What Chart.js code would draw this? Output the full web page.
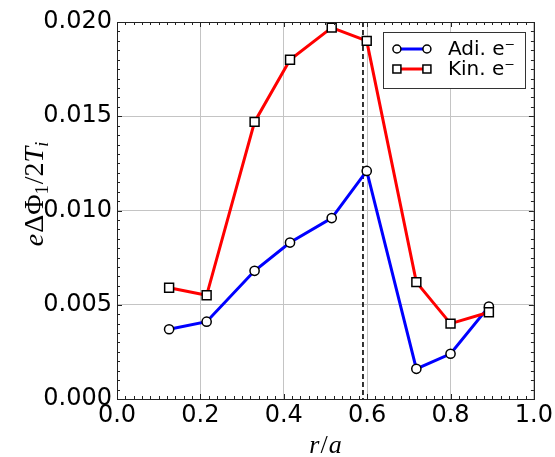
<!DOCTYPE html>
<html>
<head>
<meta charset="utf-8">
<title>eΔΦ1/2Ti vs r/a</title>
<script src="https://cdn.jsdelivr.net/npm/chart.js"></script>
<style>
  html, body { margin: 0; padding: 0; background: #fff; }
  #box { width: 555px; height: 457px; }
</style>
</head>
<body>
<div id="box"><canvas id="chart"></canvas></div>
<script>
// values
const rPos = [0.125, 0.215, 0.330, 0.415, 0.515, 0.599, 0.718, 0.800, 0.892];
const adiVals = [0.0037, 0.0041, 0.0068, 0.0083, 0.0096, 0.0121, 0.0016, 0.0024, 0.0049];
const kinVals = [0.0059, 0.0055, 0.0147, 0.0180, 0.0197, 0.0190, 0.0062, 0.0040, 0.0046];
const seriesLabels = ['Adi. e\u207B', 'Kin. e\u207B'];
const xTicks = [0.0, 0.2, 0.4, 0.6, 0.8, 1.0];
const yTicks = [0.000, 0.005, 0.010, 0.015, 0.020];
const dashedAt = 0.59;

const pts = vals => rPos.map((x, i) => ({ x: x, y: vals[i] }));

// inward major/minor ticks on all four sides + frame
const tickPlugin = {
  id: 'ticks',
  afterDraw(chart) {
    const { ctx, chartArea: a, scales: { x, y } } = chart;
    ctx.save();
    ctx.strokeStyle = '#222';
    ctx.lineWidth = 1;
    ctx.beginPath();
    for (let i = 0; i <= 50; i++) {
      const px = Math.round(x.getPixelForValue(i * 0.02)) + 0.5;
      const len = i % 10 === 0 ? 5 : 3;
      ctx.moveTo(px, a.bottom); ctx.lineTo(px, a.bottom - len);
      ctx.moveTo(px, a.top); ctx.lineTo(px, a.top + len);
    }
    for (let i = 0; i <= 40; i++) {
      const py = Math.round(y.getPixelForValue(i * 0.0005)) + 0.5;
      const len = i % 10 === 0 ? 5 : 3;
      ctx.moveTo(a.left, py); ctx.lineTo(a.left + len, py);
      ctx.moveTo(a.right, py); ctx.lineTo(a.right - len, py);
    }
    ctx.stroke();
    ctx.strokeRect(Math.round(a.left) + 0.5, Math.round(a.top) + 0.5,
      Math.round(a.right - a.left), Math.round(a.bottom - a.top));
    ctx.restore();
  }
};

// vertical dashed line
const vlinePlugin = {
  id: 'vline',
  beforeDatasetsDraw(chart) {
    const { ctx, chartArea: a, scales: { x } } = chart;
    const px = x.getPixelForValue(dashedAt);
    ctx.save();
    ctx.strokeStyle = '#000';
    ctx.lineWidth = 1.6;
    ctx.setLineDash([5, 3]);
    ctx.beginPath();
    ctx.moveTo(px, a.top); ctx.lineTo(px, a.bottom);
    ctx.stroke();
    ctx.restore();
  }
};

// mathtext-like axis labels
function drawRuns(ctx, runs) {
  let w = 0;
  runs.forEach(r => { ctx.font = r[1]; w += ctx.measureText(r[0]).width + (r[3] || 0); });
  let cx = -w / 2;
  runs.forEach(r => {
    ctx.font = r[1];
    ctx.fillText(r[0], cx, r[2]);
    cx += ctx.measureText(r[0]).width + (r[3] || 0);
  });
}
const labelPlugin = {
  id: 'labels',
  afterDraw(chart) {
    const { ctx, chartArea: a } = chart;
    const it = 'italic 26px "Liberation Serif"', up = '26px "Liberation Serif"';
    const yIt = 'italic 28px "Liberation Serif"', yUp = '28px "Liberation Serif"';
    const sIt = 'italic 18px "Liberation Serif"', sUp = '18px "Liberation Serif"';
    ctx.save();
    ctx.fillStyle = '#000';
    ctx.textBaseline = 'alphabetic';
    ctx.textAlign = 'left';
    ctx.save();
    ctx.translate((a.left + a.right) / 2, 453);
    drawRuns(ctx, [['r', it, 0, 1], ['/', up, 0, 1], ['a', it, 0]]);
    ctx.restore();
    ctx.save();
    ctx.translate(43, 194);
    ctx.rotate(-Math.PI / 2);
    drawRuns(ctx, [['e', yIt, 0, 1], ['\u0394\u03A6', yUp, 0, 0], ['1', sUp, 5, 1],
      ['/2', yUp, 0, 0], ['T', yIt, 0, 0], ['i', sIt, 5]]);
    ctx.restore();
    ctx.restore();
  }
};

// legend box with line + marker at both ends
const legendPlugin = {
  id: 'boxLegend',
  afterDraw(chart) {
    const { ctx, chartArea: a } = chart;
    const right = a.right - 9, top = a.top + 10, w = 142, h = 56;
    ctx.save();
    ctx.fillStyle = '#fff';
    ctx.strokeStyle = '#333';
    ctx.lineWidth = 1;
    ctx.fillRect(right - w, top, w, h);
    ctx.strokeRect(Math.round(right - w) + 0.5, Math.round(top) + 0.5, w, h);
    const metas = [chart.data.datasets[0], chart.data.datasets[1]];
    metas.forEach((ds, i) => {
      const yy = top + 17 + i * 20;
      const x0 = right - w + 14, x1 = x0 + 30;
      ctx.strokeStyle = ds.borderColor;
      ctx.lineWidth = 3;
      ctx.beginPath(); ctx.moveTo(x0, yy); ctx.lineTo(x1, yy); ctx.stroke();
      [x0, x1].forEach(xx => {
        ctx.fillStyle = '#fff';
        ctx.strokeStyle = '#000';
        ctx.lineWidth = 1.5;
        ctx.beginPath();
        if (ds.pointStyle === 'rect') ctx.rect(xx - 4, yy - 4, 8, 8);
        else ctx.arc(xx, yy, 4, 0, Math.PI * 2);
        ctx.fill(); ctx.stroke();
      });
      ctx.fillStyle = '#000';
      ctx.font = '20px "DejaVu Sans"';
      ctx.textBaseline = 'middle';
      ctx.fillText(ds.label, x1 + 21, yy + 1);
    });
    ctx.restore();
  }
};

const tickFont = { family: 'DejaVu Sans', size: 24 };

new Chart(document.getElementById('chart'), {
  type: 'line',
  data: {
    datasets: [
      { label: seriesLabels[0], data: pts(adiVals), borderColor: '#0000ff', borderWidth: 3,
        pointStyle: 'circle', pointRadius: 4.6, pointBorderWidth: 1.5,
        pointBackgroundColor: '#fff', pointBorderColor: '#000', order: 1 },
      { label: seriesLabels[1], data: pts(kinVals), borderColor: '#ff0000', borderWidth: 3,
        pointStyle: 'rect', pointRadius: 6.3, pointBorderWidth: 1.5,
        pointBackgroundColor: '#fff', pointBorderColor: '#000', order: 0 }
    ]
  },
  options: {
    responsive: true,
    maintainAspectRatio: false,
    animation: false,
    layout: { padding: { top: 22, right: 20, left: 0, bottom: 0 } },
    plugins: { legend: { display: false }, tooltip: { enabled: false } },
    scales: {
      x: {
        type: 'linear', min: 0, max: 1,
        afterBuildTicks: s => { s.ticks = xTicks.map(v => ({ value: v })); },
        afterFit: s => { s.height = 58; },
        ticks: { font: tickFont, color: '#000', padding: 2, maxRotation: 0,
          callback: v => v.toFixed(1) },
        grid: { color: '#c4c4c4', lineWidth: 1, drawTicks: false },
        border: { display: false }
      },
      y: {
        type: 'linear', min: 0, max: 0.02,
        afterBuildTicks: s => { s.ticks = yTicks.map(v => ({ value: v })); },
        afterFit: s => { s.width = 117; },
        ticks: { font: tickFont, color: '#000', padding: 5,
          callback: v => v.toFixed(3) },
        grid: { color: '#c4c4c4', lineWidth: 1, drawTicks: false },
        border: { display: false }
      }
    }
  },
  plugins: [vlinePlugin, tickPlugin, legendPlugin, labelPlugin]
});
</script>
</body>
</html>
